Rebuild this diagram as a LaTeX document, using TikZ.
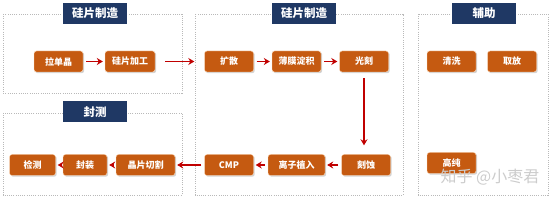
\documentclass[tikz,border=0pt]{standalone}
\usepackage{fontspec}
\setmainfont{Noto Sans CJK SC}
\usetikzlibrary{positioning,shadows,arrows.meta}
\definecolor{procorange}{HTML}{C55A11}
\definecolor{titlenavy}{HTML}{1F3864}
\definecolor{flowred}{HTML}{C00000}

\begin{document}
\begin{tikzpicture}[
    x=1pt, y=-1pt,
    proc/.style={fill=procorange, draw=orange!25, rounded corners=2.5pt,
                 minimum width=49pt, minimum height=21pt, inner sep=2pt, text=white,
                 font=\bfseries\fontsize{9}{10}\selectfont,
                 drop shadow={opacity=0.35, shadow xshift=1.2pt, shadow yshift=-1.2pt}},
    grouptitle/.style={fill=titlenavy, text=white, minimum width=64pt, minimum height=21pt,
                       inner sep=1pt, font=\bfseries\fontsize{11.5}{13}\selectfont},
    group/.style={draw=gray!55, line width=0.8pt, dash pattern=on 1pt off 1.2pt},
    arrow/.style={-{Stealth[length=6pt, width=7pt]}, line width=1.8pt, flowred,
                  shorten <=3pt, shorten >=2pt}
]
    \useasboundingbox (0,0) rectangle (554,200);

    % groups
    \draw[group] (3,14) rectangle (182,93);
    \draw[group] (195,14) rectangle (403,195);
    \draw[group] (3,113) rectangle (182,195);
    \draw[group] (418,14) rectangle (548,195);

    \node[grouptitle] (t-wafer) at (95,13.5) {硅片制造};
    \node[grouptitle] (t-chip) at (304,13.5) {硅片制造};
    \node[grouptitle] (t-pack) at (95,112) {封测};
    \node[grouptitle] (t-aux) at (484,13.5) {辅助};

    % top row
    \node[proc] (crystal) at (58.5,61.5) {拉单晶};
    \node[proc, minimum width=50pt] (slice) at (130,61.5) {硅片加工};
    \node[proc] (diffuse) at (229,61.5) {扩散};
    \node[proc] (film) at (296.5,61.5) {薄膜淀积};
    \node[proc] (litho) at (364,61.5) {光刻};

    % bottom row
    \node[proc] (etch) at (366,165) {刻蚀};
    \node[proc, minimum width=57pt] (implant) at (296.5,165) {离子植入};
    \node[proc] (cmp) at (229,165) {CMP};
    \node[proc, minimum width=59pt] (dicing) at (145.5,165) {晶片切割};
    \node[proc, minimum width=44pt] (package) at (85,165) {封装};
    \node[proc, minimum width=46pt] (test) at (32.5,165) {检测};

    % auxiliary
    \node[proc] (clean) at (451.5,61.5) {清洗};
    \node[proc] (pick) at (512,61.5) {取放};
    \node[proc] (pure) at (451.5,163) {高纯};

    \draw[arrow] (crystal) -- (slice);
    \draw[arrow, line width=1.4pt, shorten <=10pt, shorten >=10pt] (slice) -- (diffuse);
    \draw[arrow] (diffuse) -- (film);
    \draw[arrow] (film) -- (litho);
    \draw[arrow, line width=1.4pt, shorten <=6pt, shorten >=9pt] (litho.south) -- (litho.south |- etch.north);
    \draw[arrow] (etch) -- (implant);
    \draw[arrow] (implant) -- (cmp);
    \draw[arrow] (cmp) -- (dicing);
    \draw[arrow] (dicing) -- (package);
    \draw[arrow] (package) -- (test);

    % watermark
    \node[text=gray!40, font=\fontsize{16}{18}\selectfont] (mark) at (490,177) {知乎 @小枣君};
\end{tikzpicture}
\end{document}
